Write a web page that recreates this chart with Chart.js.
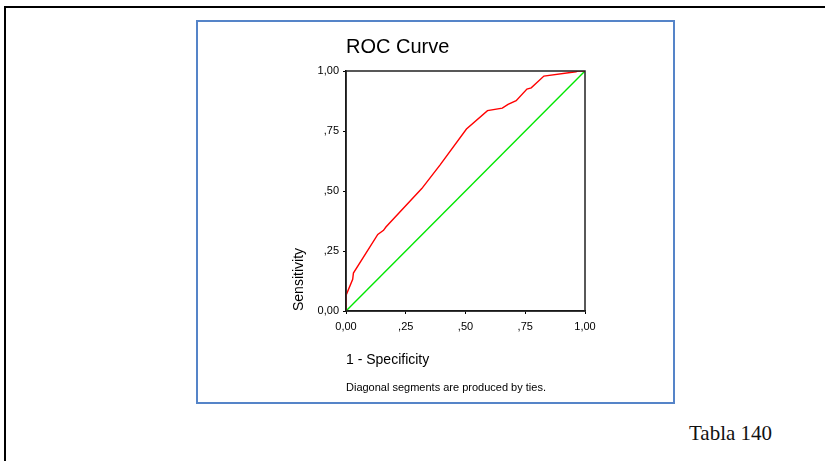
<!DOCTYPE html>
<html>
<head>
<meta charset="utf-8">
<script src="https://cdn.jsdelivr.net/npm/chart.js@4.4.1/dist/chart.umd.min.js"></script>
<style>
  body { margin: 0; background: #fff; width: 825px; height: 461px; overflow: hidden; position: relative; }
  #frameTop { position: absolute; left: 4px; top: 6px; width: 821px; height: 2px; background: #000; }
  #frameLeft { position: absolute; left: 4px; top: 6px; width: 2px; height: 455px; background: #000; }
  #box { position: absolute; left: 196px; top: 20px; width: 475px; height: 380px; border: 2px solid #5584c8; }
  #tabla { position: absolute; left: 689px; top: 421px; font-family: 'Liberation Serif', serif; font-size: 21px; color: #111; }
</style>
</head>
<body>
<div id="frameTop"></div>
<div id="frameLeft"></div>
<div id="box"><canvas id="roc" width="475" height="380"></canvas></div>
<div id="tabla">Tabla 140</div>
<script>
// valori (1 - specificitate, sensibilitate)
const rocFpr = [0, 0, 0.028, 0.031, 0.133, 0.157, 0.167, 0.317, 0.393, 0.504, 0.592, 0.654, 0.678, 0.712, 0.757, 0.775, 0.828, 0.962, 0.97, 1];
const rocTpr = [0, 0.065, 0.132, 0.158, 0.319, 0.336, 0.350, 0.510, 0.608, 0.758, 0.835, 0.845, 0.861, 0.876, 0.925, 0.930, 0.979, 0.997, 1.0, 1.0];
const refX = [0, 1];
const refY = [0, 1];
const tickLabels = ['0,00', ',25', ',50', ',75', '1,00'];

const chartTitle = 'ROC Curve';
const xTitle = '1 - Specificity';
const yTitle = 'Sensitivity';
const footnote = 'Diagonal segments are produced by ties.';

const FONT = "'Liberation Sans', Arial, sans-serif";

// titlu + nota de subsol aliniate la stanga zonei graficului, plus cadrul
const extras = {
  id: 'extras',
  afterDraw(chart) {
    const { ctx, chartArea } = chart;
    ctx.save();
    ctx.strokeStyle = '#222';
    ctx.lineWidth = 1.5;
    ctx.strokeRect(chartArea.left, chartArea.top, chartArea.right - chartArea.left, chartArea.bottom - chartArea.top);
    ctx.fillStyle = '#000';
    ctx.textAlign = 'left';
    ctx.textBaseline = 'alphabetic';
    ctx.font = '20px ' + FONT;
    ctx.fillText(chartTitle, chartArea.left, 31);
    ctx.font = '11px ' + FONT;
    ctx.fillText(footnote, chartArea.left, 369);
    ctx.restore();
  }
};

new Chart(document.getElementById('roc'), {
  type: 'scatter',
  data: {
    datasets: [
      {
        label: 'ROC',
        data: rocFpr.map((x, i) => ({ x: x, y: rocTpr[i] })),
        showLine: true,
        borderColor: '#ff0000',
        borderWidth: 1.4,
        pointRadius: 0,
        tension: 0
      },
      {
        label: 'Reference',
        data: refX.map((x, i) => ({ x: x, y: refY[i] })),
        showLine: true,
        borderColor: '#00e600',
        borderWidth: 1.4,
        pointRadius: 0
      }
    ]
  },
  options: {
    responsive: false,
    animation: false,
    layout: { padding: { left: 0, right: 88, top: 49, bottom: 31 } },
    plugins: {
      legend: { display: false },
      tooltip: { enabled: false }
    },
    scales: {
      x: {
        type: 'linear',
        min: 0,
        max: 1,
        afterFit: s => { s.height = 60; },
        ticks: {
          stepSize: 0.25,
          padding: 6,
          maxRotation: 0,
          color: '#000',
          font: { family: FONT, size: 11 },
          callback: (v, i) => tickLabels[i]
        },
        grid: { drawOnChartArea: false, drawTicks: true, tickLength: 3, color: '#000' },
        border: { color: '#000', width: 1.5 },
        title: {
          display: true,
          text: xTitle,
          align: 'start',
          color: '#000',
          font: { family: FONT, size: 14 },
          padding: { top: 0, bottom: 2 }
        }
      },
      y: {
        type: 'linear',
        min: 0,
        max: 1,
        afterFit: s => { s.width = 148; },
        ticks: {
          stepSize: 0.25,
          padding: 4,
          color: '#000',
          font: { family: FONT, size: 11 },
          callback: (v, i) => tickLabels[i]
        },
        grid: { drawOnChartArea: false, drawTicks: true, tickLength: 3, color: '#000' },
        border: { color: '#000', width: 1.5 },
        title: {
          display: true,
          text: yTitle,
          align: 'start',
          color: '#000',
          font: { family: FONT, size: 14 },
          padding: { top: 93, bottom: 0 }
        }
      }
    }
  },
  plugins: [extras]
});
</script>
</body>
</html>
